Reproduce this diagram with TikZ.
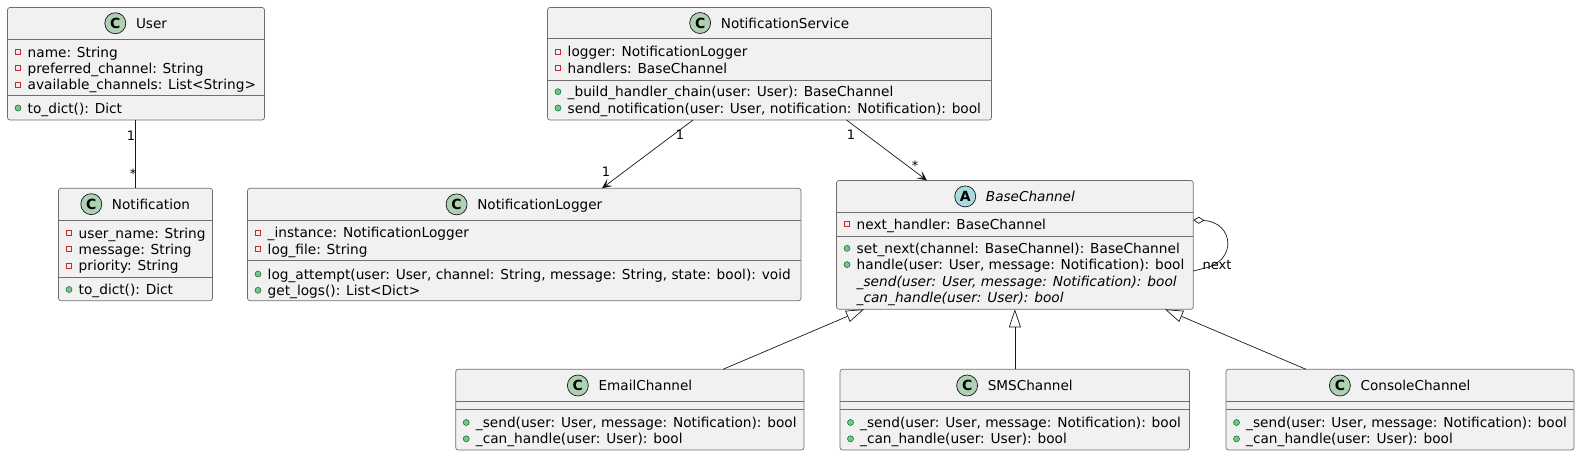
\documentclass[tikz,border=0pt]{standalone}
\usepackage{fontspec}
\setmainfont{DejaVu Sans}
\usetikzlibrary{arrows.meta,fit,calc}
\definecolor{boxfill}{HTML}{F1F1F1}
\definecolor{ink}{HTML}{181818}
\definecolor{boxline}{HTML}{6E6E6E}
\definecolor{cfill}{HTML}{ADD1B2}
\definecolor{afill}{HTML}{A9DCDF}
\definecolor{privred}{HTML}{C82930}
\definecolor{pubfill}{HTML}{84BE84}
\definecolor{publine}{HTML}{038048}
\tikzset{
  umlbox/.style={draw=boxline, line width=0.7pt, fill=boxfill, rounded corners=2.5pt, inner sep=0pt, outer sep=0pt},
  sepline/.style={draw=boxline, line width=0.7pt},
  titletext/.style={anchor=base, inner sep=0pt, font=\fontsize{13.6}{16}\selectfont},
  membertext/.style={anchor=base west, inner sep=0pt, font=\fontsize{13.7}{16}\selectfont},
  abstext/.style={anchor=base west, inner sep=0pt, font=\fontsize{13.7}{16}\selectfont\itshape},
  classicon/.style={circle, draw=ink, line width=0.7pt, minimum size=21pt, inner sep=0pt, font=\fontsize{14}{14}\selectfont\bfseries},
  cicon/.style={classicon, fill=cfill, execute at begin node={C}},
  aicon/.style={classicon, fill=afill, execute at begin node={A}},
  privicon/.style={rectangle, draw=privred, line width=0.7pt, minimum size=5pt, inner sep=0pt},
  pubicon/.style={circle, draw=publine, fill=pubfill, line width=0.6pt, minimum size=6pt, inner sep=0pt},
  mult/.style={anchor=base, inner sep=0pt, font=\fontsize{13}{13}\selectfont},
  assoc/.style={draw=ink, line width=0.7pt, -{Stealth[length=10pt,width=9pt,inset=5pt]}},
  plainlink/.style={draw=ink, line width=0.7pt},
  inherit/.style={draw=ink, line width=0.7pt, -{Triangle[length=18pt,width=12pt,fill=white]}},
  aggself/.style={draw=ink, line width=0.7pt, {Diamond[length=11pt,width=7pt,fill=white]}-},
}
\newcommand\umlclass[9]{%
  \node[umlbox, fit={(#2,#3) (#4,#5)}] (#1) {};
  \draw[sepline] (#2,#6) -- (#4,#6);
  \draw[sepline] (#2,#7) -- (#4,#7);
  \node[titletext] (#1-title) at ({(#2+#4)/2+15.5},{(#3+#6)/2+5.1}) {#9};
  \node[#8] (#1-icon) at ([xshift=-20.5pt,yshift=5.1pt]#1-title.base west) {};
}
\newcommand\privm[4]{%
  \node[privicon] (#1-i) at (#2+10.5,#3) {};
  \node[membertext] (#1) at (#2+20,#3+5.1) {#4};
}
\newcommand\pubm[4]{%
  \node[pubicon] (#1-i) at (#2+10.5,#3) {};
  \node[membertext] (#1) at (#2+20,#3+5.1) {#4};
}
\newcommand\absm[4]{%
  \node[abstext] (#1) at (#2+20,#3+5.1) {#4};
}
\begin{document}
\begin{tikzpicture}[x=1pt,y=-1pt]
\useasboundingbox (0,0) rectangle (1580,456);

% User
\umlclass{user}{7.5}{7.5}{264.5}{120}{39}{95}{cicon}{User}
\privm{u1}{7.5}{52}{name: String}
\privm{u2}{7.5}{68.3}{preferred\_channel: String}
\privm{u3}{7.5}{84.6}{available\_channels: List<String>}
\pubm{u4}{7.5}{108}{to\_dict(): Dict}

% Notification
\umlclass{notif}{58.5}{188.3}{212.5}{300.7}{220}{277.5}{cicon}{Notification}
\privm{n1}{58.5}{233}{user\_name: String}
\privm{n2}{58.5}{249.3}{message: String}
\privm{n3}{58.5}{265.6}{priority: String}
\pubm{n4}{58.5}{289.5}{to\_dict(): Dict}

% NotificationService
\umlclass{svc}{547.5}{7.5}{991.5}{120}{38.5}{80}{cicon}{NotificationService}
\privm{s1}{547.5}{51.7}{logger: NotificationLogger}
\privm{s2}{547.5}{68}{handlers: BaseChannel}
\pubm{s3}{547.5}{91.7}{\_build\_handler\_chain(user: User): BaseChannel}
\pubm{s4}{547.5}{108}{send\_notification(user: User, notification: Notification): bool}

% NotificationLogger
\umlclass{logger}{247.5}{188.3}{801}{300.7}{220.5}{260.5}{cicon}{NotificationLogger}
\privm{l1}{247.5}{232.8}{\_instance: NotificationLogger}
\privm{l2}{247.5}{249.1}{log\_file: String}
\pubm{l3}{247.5}{274}{log\_attempt(user: User, channel: String, message: String, state: bool): void}
\pubm{l4}{247.5}{290.3}{get\_logs(): List<Dict>}

% BaseChannel
\umlclass{base}{836.5}{180.5}{1193.3}{309.3}{212.3}{236.5}{aicon}{\itshape BaseChannel}
\privm{b1}{836.5}{224.3}{next\_handler: BaseChannel}
\pubm{b2}{836.5}{248.3}{set\_next(channel: BaseChannel): BaseChannel}
\pubm{b3}{836.5}{264.6}{handle(user: User, message: Notification): bool}
\absm{b4}{836.5}{280.9}{\_send(user: User, message: Notification): bool}
\absm{b5}{836.5}{297.2}{\_can\_handle(user: User): bool}

% EmailChannel
\umlclass{email}{455.7}{369.3}{804}{450}{401.7}{409.5}{cicon}{EmailChannel}
\pubm{e1}{455.7}{422.5}{\_send(user: User, message: Notification): bool}
\pubm{e2}{455.7}{438.8}{\_can\_handle(user: User): bool}

% SMSChannel
\umlclass{sms}{840}{369.3}{1189.5}{450}{401.7}{409.5}{cicon}{SMSChannel}
\pubm{m1}{840}{422.5}{\_send(user: User, message: Notification): bool}
\pubm{m2}{840}{438.8}{\_can\_handle(user: User): bool}

% ConsoleChannel
\umlclass{console}{1226}{369.3}{1574}{450}{401.7}{409.5}{cicon}{ConsoleChannel}
\pubm{k1}{1226}{422.5}{\_send(user: User, message: Notification): bool}
\pubm{k2}{1226}{438.8}{\_can\_handle(user: User): bool}

% User -- Notification
\draw[plainlink] (notif.north |- user.south) -- (notif.north);
\node[mult] (mu1) at (131,140.4) {1};
\node[mult] (mu2) at (133,178.7) {*};

% Service -> Logger
\draw[assoc] ([xshift=145.5pt]svc.south west) -- ([xshift=354.5pt]logger.north west);
\node[mult] (ms1) at (680,139.7) {1};
\node[mult] (ms2) at (606,176.7) {1};

% Service -> BaseChannel
\draw[assoc] ([xshift=299pt]svc.south west) -- ([xshift=90.5pt]base.north west);
\node[mult] (ms3) at (851,139.7) {1};
\node[mult] (ms4) at (915,170.4) {*};

% Inheritance
\draw[inherit] ([xshift=267.3pt]email.north west) -- ([xshift=27.5pt]base.south west);
\draw[inherit] (sms.north -| base.south) -- (base.south);
\draw[inherit] ([xshift=80pt]console.north west) -- ([xshift=-28.3pt]base.south east);

% Self aggregation
\coordinate (ls) at ([yshift=-39.5pt]base.north east);
\coordinate (le) at ([yshift=-90.5pt]base.north east);
\coordinate (lc1) at (1234,222);
\coordinate (lc2) at (1238,262);
\coordinate (lp) at (1203,268.5);
\draw[aggself] (ls) .. controls (lc1) and (lc2) .. (lp) -- (le);
\node[anchor=base west, inner sep=0pt, font=\fontsize{13}{13}\selectfont] (nextlbl) at (1202.5,269.5) {next};
\end{tikzpicture}
\end{document}
